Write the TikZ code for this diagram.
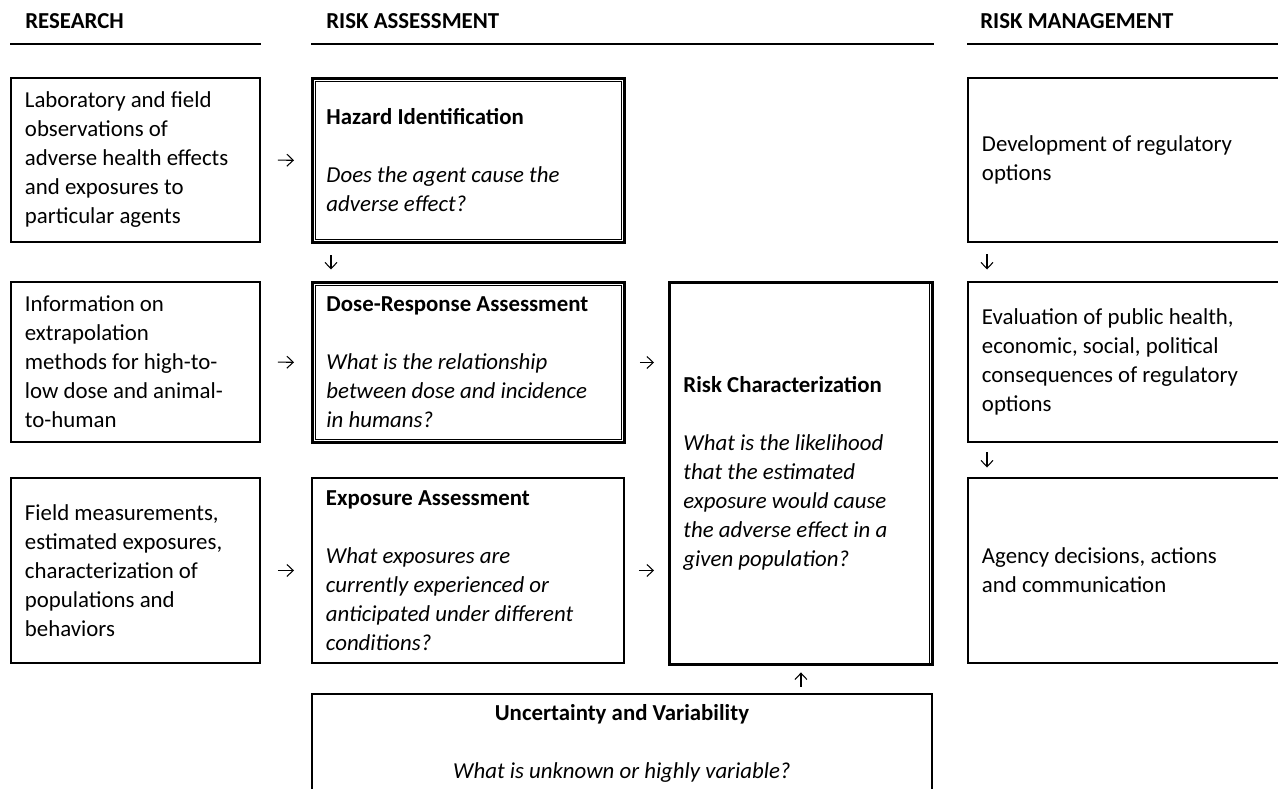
\documentclass[tikz,border=0pt]{standalone}
\usepackage{fontspec}
\setmainfont{Carlito}
\usetikzlibrary{arrows.meta,positioning}
\newcommand\txtsize{\fontsize{13pt}{16.5pt}\selectfont}

\tikzset{
  box/.style={rectangle, draw=black, line width=1.1pt, anchor=north west, inner xsep=0.28cm, inner ysep=0pt, align=flush left},
  dbl/.style={line width=1.7pt},
  res_block/.style={box, minimum width=4.98cm, text width=4.42cm},
  ra_block/.style={box, minimum width=6.24cm, text width=5.68cm},
  rc_block/.style={box, minimum width=5.26cm, text width=4.70cm},
  rm_block/.style={box, minimum width=6.46cm, text width=5.90cm},
  head/.style={anchor=west, inner sep=0pt, font=\txtsize\bfseries},
  rule/.style={line width=1.1pt},
  thin_line/.style={line width=0.6pt},
  flow/.style={-{Straight Barb[length=3.6pt,width=6.8pt]}, line width=0.6pt},
  gap/.style={shorten <=#1, shorten >=#1}
}

\begin{document}
\begin{tikzpicture}[x=0.02cm, y=-0.02cm, font=\txtsize]
\useasboundingbox (0,0) rectangle (1278,788);

\coordinate (rule_y) at (0,44);

% headers
\node[head] (h_res) at (25,21) {RESEARCH};
\node[head] (h_ra)  at (326,21) {RISK ASSESSMENT};
\node[head] (h_rm)  at (980,21) {RISK MANAGEMENT};

% research column
\node[res_block, minimum height=3.28cm] (lab) at (10,77)
  {Laboratory and field\\ observations of\\ adverse health effects\\ and exposures to\\ particular agents};
\node[res_block, minimum height=3.20cm] (info) at (10,281)
  {Information on\\ extrapolation\\ methods for high-to-\\ low dose and animal-\\ to-human};
\node[res_block, minimum height=3.70cm] (field) at (10,477)
  {Field measurements,\\ estimated exposures,\\ characterization of\\ populations and\\ behaviors};

% risk assessment column
\node[ra_block, dbl, minimum height=3.28cm] (hazard) at (311,77)
  {\textbf{Hazard Identification}\\[16.5pt] \itshape Does the agent cause the\\ adverse effect?};
\node[ra_block, dbl, minimum height=3.20cm] (dose) at (311,281)
  {\textbf{Dose-Response Assessment}\\[16.5pt] \itshape What is the relationship\\ between dose and incidence\\ in humans?};
\node[ra_block, minimum height=3.70cm] (expo) at (311,477)
  {\textbf{Exposure Assessment}\\[16.5pt] \itshape What exposures are\\ currently experienced or\\ anticipated under different\\ conditions?};
\node[rc_block, dbl, minimum height=7.64cm] (risk) at (668,281)
  {\textbf{Risk Characterization}\\[16.5pt] \itshape What is the likelihood\\ that the estimated\\ exposure would cause\\ the adverse effect in a\\ given population?};
\node[box, align=flush center, minimum width=12.40cm, text width=11.84cm, minimum height=1.98cm] (uncert) at (311,693)
  {\textbf{Uncertainty and Variability}\\[16.5pt] \textit{What is unknown or highly variable?}};

% inner lines of the double borders
\foreach \b in {hazard,dose}
  \draw[thin_line] ([shift={(4.5,4.5)}]\b.north west) rectangle ([shift={(-4.5,-4.5)}]\b.south east);
\draw[thin_line] ([xshift=-0.09cm]risk.north east) -- ([xshift=-0.09cm]risk.south east);

% risk management column
\node[rm_block, minimum height=3.28cm] (mg1) at (967,77)
  {Development of regulatory\\ options};
\node[rm_block, minimum height=3.20cm] (mg2) at (967,281)
  {Evaluation of public health,\\ economic, social, political\\ consequences of regulatory\\ options};
\node[rm_block, minimum height=3.70cm] (mg3) at (967,477)
  {Agency decisions, actions\\ and communication};

% header rules
\draw[rule] (lab.west |- rule_y) -- (lab.east |- rule_y);
\draw[rule] (hazard.west |- rule_y) -- (risk.east |- rule_y);
\draw[rule] (mg1.west |- rule_y) -- (mg1.east |- rule_y);

% arrows
\draw[flow, gap=0.34cm] (lab.east) -- (hazard.west);
\draw[flow, gap=0.34cm] (info.east) -- (dose.west);
\draw[flow, gap=0.34cm] (field.east) -- (expo.west);
\draw[flow, gap=0.28cm] (dose.east) -- (dose.east -| risk.west);
\draw[flow, gap=0.28cm] (expo.east) -- (expo.east -| risk.west);
\draw[flow, gap=0.23cm] ([xshift=0.4cm]hazard.south west) -- ([xshift=0.4cm]dose.north west);
\draw[flow, gap=0.23cm] ([xshift=0.4cm]mg1.south west) -- ([xshift=0.4cm]mg2.north west);
\draw[flow, gap=0.19cm] ([xshift=0.4cm]mg2.south west) -- ([xshift=0.4cm]mg3.north west);
\draw[flow, gap=0.13cm] (risk.south |- uncert.north) -- (risk.south);

\end{tikzpicture}
\end{document}
